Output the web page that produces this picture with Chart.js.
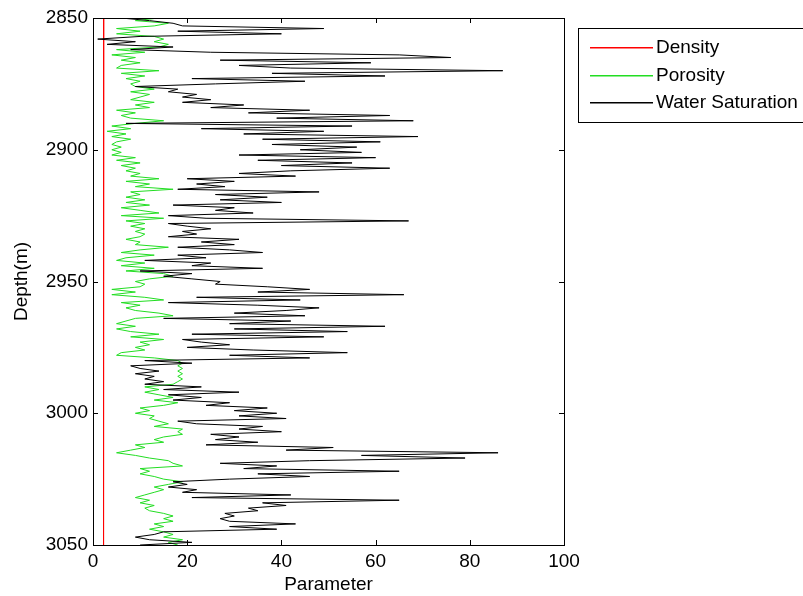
<!DOCTYPE html>
<html>
<head>
<meta charset="utf-8">
<script src="https://cdn.jsdelivr.net/npm/chart.js@4/dist/chart.umd.min.js"></script>
<style>
  html,body{margin:0;padding:0;background:#fff}
  #wrap{width:803px;height:596px}
</style>
</head>
<body>
<div id="wrap"><canvas id="log-chart" width="803" height="596"></canvas></div>
<script>
// depth grid (m)
const depthTop = 2850;
const depthBottom = 3050;
const logStep = 1;       // porosity / water saturation sampling
const densityStep = 10;  // density sampling

const depthTicks = [2850, 2900, 2950, 3000, 3050];
const paramTicks = [0, 20, 40, 60, 80, 100];

const seriesNames = ['Density', 'Porosity', 'Water Saturation'];
const seriesColors = ['#ff0000', '#22dd22', '#000000'];

// density, every 10 m from 2850
const density = [2.3,2.2,2.3,2.2,2.3,2.2,2.3,2.2,2.3,2.2,2.3,2.2,2.2,2.3,2.2,2.3,2.2,2.2,2.3,2.2,2.2];

// porosity, every 1 m from 2850 (one row = 10 m)
const porosity = [
  14,9,16,13,5,10,5,13,15,13,
  16,14,5,11,4,9,6,10,6,5,
  14,6,11,7,10,8,9,13,8,12,
  10,8,13,9,12,5,9,6,8,15,
  9,4,8,3,7,4,8,5,4,6,
  4,6,4,9,5,10,6,9,7,10,
  8,14,7,12,9,17,8,10,7,11,
  7,12,6,10,14,6,15,7,11,8,
  11,9,11,10,7,10,9,16,10,6,
  13,7,5,11,6,13,7,15,17,12,
  9,11,10,4,9,4,11,15,6,10,
  7,9,14,17,9,7,5,9,5,8,
  14,8,15,10,12,9,11,6,5,13,
  18,19,18,19,18,19,18,19,18,17,
  11,14,11,14,17,13,18,15,10,12,
  9,13,12,14,16,13,19,18,19,15,
  13,15,9,11,8,5,9,12,16,17,
  19,10,12,10,13,15,19,16,13,15,
  13,11,9,12,10,13,11,12,15,17,
  15,17,13,15,12,15,17,15,19,16,
  18
];

// water saturation, every 1 m from 2850 (one row = 10 m)
const waterSat = [
  6,12,17,19,49,18,40,10,1,9,
  3,17,8,25,65,76,27,59,31,42,
  87,38,62,21,45,26,9,18,16,22,
  19,25,19,32,25,46,33,63,39,68,
  7,55,23,49,32,69,36,61,38,56,
  44,57,31,60,35,55,40,63,42,31,
  43,20,30,22,28,18,48,26,37,27,
  40,17,30,26,34,16,24,67,16,20,
  25,19,22,16,31,23,30,18,29,36,
  18,24,11,25,21,36,10,21,15,21,
  27,26,37,46,35,66,22,44,16,35,
  48,41,30,45,15,42,29,62,30,54,
  21,49,19,23,29,20,34,54,29,46,
  11,21,8,10,14,9,13,11,15,11,
  23,15,31,16,23,17,29,24,37,30,
  39,31,41,18,22,36,31,40,25,31,
  26,35,24,51,41,86,57,79,46,27,
  39,32,65,35,46,29,17,20,16,22,
  19,42,21,65,36,41,33,35,28,30,
  27,29,43,29,39,15,13,9,12,21,
  10
];

const FONT = 'Liberation Sans, Arial, sans-serif';
const FS = 19;

function toPoints(vals, step) {
  return vals.map((v, i) => ({ x: v, y: depthTop + i * step }));
}

// MATLAB-like box with inward ticks + legend box
const frameLegend = {
  id: 'frameLegend',
  afterDraw(chart) {
    const { ctx, chartArea: a, scales } = chart;
    const tl = 5;
    ctx.save();
    ctx.strokeStyle = '#000';
    ctx.lineWidth = 1;
    ctx.strokeRect(a.left + 0.5, a.top + 0.5, a.right - a.left, a.bottom - a.top);
    ctx.beginPath();
    paramTicks.forEach(v => {
      const x = Math.round(scales.x.getPixelForValue(v)) + 0.5;
      ctx.moveTo(x, a.bottom); ctx.lineTo(x, a.bottom - tl);
      ctx.moveTo(x, a.top); ctx.lineTo(x, a.top + tl);
    });
    depthTicks.forEach(v => {
      const y = Math.round(scales.y.getPixelForValue(v)) + 0.5;
      ctx.moveTo(a.left, y); ctx.lineTo(a.left + tl, y);
      ctx.moveTo(a.right, y); ctx.lineTo(a.right - tl, y);
    });
    ctx.stroke();

    // legend
    const lx = 578, ly = 28, lw = 240, rowH = 27.5;
    ctx.fillStyle = '#fff';
    ctx.fillRect(lx, ly, lw, 94);
    ctx.strokeStyle = '#000';
    ctx.strokeRect(lx + 0.5, ly + 0.5, lw, 94);
    ctx.font = FS + 'px ' + FONT;
    ctx.textBaseline = 'middle';
    seriesNames.forEach((name, i) => {
      const y = Math.round(ly + 19 + i * rowH);
      ctx.fillStyle = seriesColors[i];
      ctx.fillRect(590, y, 63, 1.5);
      ctx.fillStyle = '#000';
      ctx.fillText(name, 656, y + 1);
    });
    ctx.restore();
  }
};

new Chart(document.getElementById('log-chart'), {
  type: 'scatter',
  data: {
    datasets: [
      { label: seriesNames[0], data: toPoints(density, densityStep), borderColor: seriesColors[0], order: 2 },
      { label: seriesNames[1], data: toPoints(porosity, logStep), borderColor: seriesColors[1], order: 1 },
      { label: seriesNames[2], data: toPoints(waterSat, logStep), borderColor: seriesColors[2], order: 0 },
    ].map(d => Object.assign(d, { showLine: true, pointRadius: 0, borderWidth: 1, tension: 0, fill: false })),
  },
  options: {
    responsive: false,
    animation: false,
    layout: { padding: { top: 18, right: 239, left: 0, bottom: 0 } },
    plugins: { legend: { display: false }, tooltip: { enabled: false } },
    scales: {
      x: {
        type: 'linear', min: 0, max: 100,
        afterBuildTicks: s => { s.ticks = paramTicks.map(v => ({ value: v })); },
        afterFit: s => { s.height = 51; },
        grid: { display: false, drawTicks: false }, border: { display: false },
        ticks: { color: '#000', padding: 5, font: { family: FONT, size: FS }, callback: v => String(v) },
        title: { display: true, text: 'Parameter', color: '#000', padding: { top: 0, bottom: 0 }, font: { family: FONT, size: FS } },
      },
      y: {
        type: 'linear', min: depthTop, max: depthBottom, reverse: true,
        afterBuildTicks: s => { s.ticks = depthTicks.map(v => ({ value: v })); },
        afterFit: s => { s.width = 93; },
        grid: { display: false, drawTicks: false }, border: { display: false },
        ticks: { color: '#000', padding: 5, font: { family: FONT, size: FS }, callback: v => String(v) },
        title: { display: true, text: 'Depth(m)', color: '#000', padding: { top: 10, bottom: 0 }, font: { family: FONT, size: FS } },
      },
    },
  },
  plugins: [frameLegend],
});
</script>
</body>
</html>
